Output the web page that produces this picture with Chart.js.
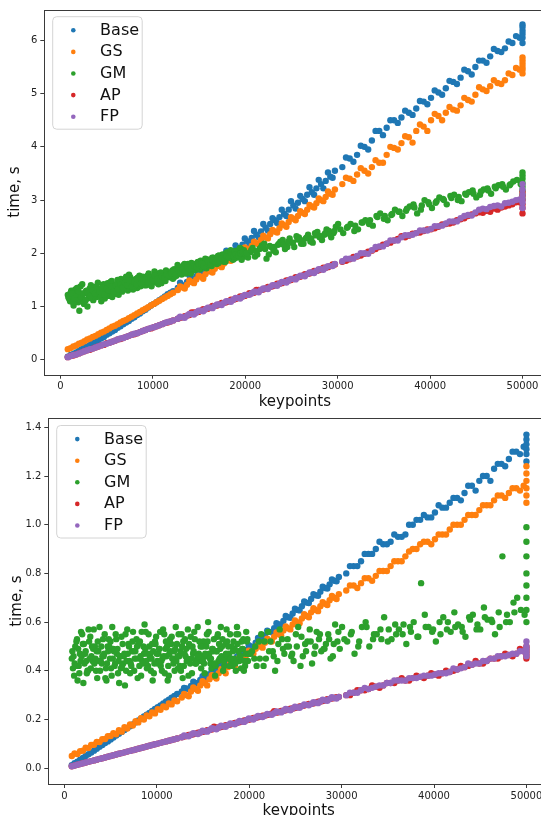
<!DOCTYPE html>
<html><head><meta charset="utf-8">
<script src="https://cdn.jsdelivr.net/npm/chart.js@4.4.1/dist/chart.umd.min.js"></script>
<style>
html,body{margin:0;padding:0;background:#fff;overflow:hidden;width:541px;height:815px;position:relative;}
canvas{position:absolute;left:0;}
#c1{top:0px}
#c2{top:408px}
</style></head><body>
<canvas id="c1" width="560" height="412"></canvas>
<canvas id="c2" width="560" height="412"></canvas>
<script>
// ---------- DATA ----------
const seriesNames = ['Base', 'GS', 'GM', 'AP', 'FP'];
const xTickValues = [0, 10000, 20000, 30000, 40000, 50000];
const yTickValuesTop = [0, 1, 2, 3, 4, 5, 6];
const yTickValuesBottom = [0.0, 0.2, 0.4, 0.6, 0.8, 1.0, 1.2, 1.4];

// keypoints shared by Base, GS, AP, FP (first run)
const keypoints = [
  800,1100,1400,1700,2000,2300,2600,2900,3200,3500,3800,4100,4400,
  4700,5000,5300,5600,5900,6200,6500,6800,7100,7400,7700,8000,8300,
  8600,8900,9200,9500,9800,10100,10400,10700,11000,11300,11600,11900,12200,
  12700,13200,13700,14200,14700,15200,15700,16200,16700,17200,17700,18200,
  18700,19200,19700,20200,20700,21200,21700,22200,22700,23200,23700,24200,
  24700,25200,25700,26200,26700,27200,27700,28200,28700,29200,29700,
  30500,31300,32100,32900,33700,34500,35300,36100,36900,37700,38500,39300,40100,
  40900,41700,42500,43300,44100,44900,45700,46500,47300,48100,48900,49700,
  50000,50000,50000,50000,50000,50000
];
// keypoints of the second run (Base, GS, AP, FP)
const keypointsB = [
  12950,13450,13950,14450,14950,15450,15950,16450,16950,17450,17950,18450,
  18950,19450,19950,20450,20950,21450,21950,22450,22950,23450,23950,24450,
  24950,25450,25950,26450,26950,27450,27950,28450,28950,29450,
  30900,31700,32500,33300,34100,34900,35700,36500,37300,38100,38900,39700,
  40500,41300,42100,42900,43700,44500,45300,46100,46900,47700,48500,49300
];

// ----- top chart (time, s) -----
const baseTop = [
  0.06,0.09,0.11,0.14,0.17,0.20,0.23,0.25,0.28,0.32,0.34,0.37,0.40,
  0.43,0.47,0.50,0.53,0.56,0.60,0.63,0.67,0.70,0.73,0.77,0.80,0.84,
  0.87,0.91,0.94,0.98,1.02,1.05,1.08,1.12,1.15,1.19,1.23,1.26,1.29,
  1.35,1.40,1.46,1.52,1.57,1.63,1.69,1.74,1.80,1.86,1.92,1.98,
  2.04,2.10,2.16,2.23,2.29,2.35,2.41,2.48,2.55,2.62,2.68,2.74,
  2.82,2.90,2.95,3.02,3.10,3.15,3.22,3.30,3.36,3.44,3.55,
  3.62,3.78,3.85,4.00,4.12,4.30,4.36,4.50,4.55,4.64,4.72,4.85,4.92,
  5.02,5.10,5.22,5.30,5.42,5.50,5.62,5.70,5.80,5.85,5.95,6.05,
  5.95,6.05,6.12,6.18,6.25,6.30
];
const baseTopB = [
  1.45,1.38,1.59,1.47,1.64,1.56,1.84,1.74,1.90,1.79,2.05,1.95,
  2.15,2.05,2.28,2.18,2.42,2.30,2.55,2.43,2.66,2.57,2.82,2.70,
  2.98,2.84,3.08,2.98,3.24,3.10,3.38,3.22,3.52,3.42,
  3.80,3.72,4.02,3.95,4.30,4.22,4.50,4.45,4.68,4.60,4.86,4.80,
  5.06,4.98,5.24,5.18,5.45,5.36,5.62,5.58,5.84,5.78,5.98,6.08
];
const gsTop = [
  0.20,0.22,0.25,0.27,0.30,0.32,0.35,0.38,0.40,0.43,0.45,0.48,0.51,
  0.53,0.56,0.59,0.62,0.64,0.67,0.70,0.73,0.75,0.78,0.81,0.84,0.87,
  0.90,0.93,0.96,0.99,1.02,1.05,1.08,1.11,1.14,1.17,1.20,1.23,1.26,
  1.31,1.36,1.41,1.46,1.51,1.56,1.61,1.66,1.71,1.76,1.81,1.87,
  1.92,1.97,2.03,2.08,2.14,2.19,2.25,2.30,2.36,2.41,2.47,2.53,
  2.59,2.65,2.70,2.76,2.82,2.88,2.94,3.00,3.06,3.12,3.20,
  3.30,3.40,3.48,3.55,3.62,3.70,3.85,3.98,4.07,4.18,4.30,4.38,4.50,
  4.58,4.64,4.70,4.78,4.88,4.98,5.08,5.14,5.20,5.25,5.35,5.45,
  5.38,5.45,5.50,5.56,5.62,5.68
];
const gsTopB = [
  1.38,1.34,1.49,1.44,1.58,1.52,1.69,1.64,1.78,1.74,1.90,1.86,
  2.00,1.96,2.11,2.06,2.22,2.17,2.33,2.28,2.44,2.39,2.56,2.50,
  2.68,2.62,2.79,2.74,2.91,2.86,3.03,2.98,3.16,3.10,
  3.42,3.36,3.60,3.50,3.75,3.70,4.00,3.95,4.20,4.08,4.42,4.30,
  4.62,4.50,4.75,4.68,4.92,4.85,5.12,5.05,5.25,5.18,5.38,5.48
];
const apTop = [
  0.05,0.07,0.08,0.10,0.12,0.14,0.16,0.18,0.19,0.21,0.23,0.25,0.27,
  0.28,0.31,0.32,0.34,0.36,0.38,0.39,0.41,0.43,0.45,0.47,0.48,0.50,
  0.52,0.54,0.56,0.58,0.59,0.61,0.63,0.65,0.67,0.69,0.70,0.72,0.74,
  0.77,0.80,0.83,0.89,0.89,0.92,0.95,0.98,1.01,1.04,1.07,1.10,
  1.13,1.16,1.19,1.22,1.25,1.31,1.31,1.34,1.37,1.40,1.43,1.46,
  1.49,1.52,1.55,1.58,1.61,1.64,1.67,1.70,1.73,1.76,1.79,
  1.84,1.89,1.94,1.99,2.05,2.12,2.18,2.24,2.32,2.33,2.38,2.42,2.45,
  2.50,2.55,2.58,2.64,2.70,2.75,2.76,2.78,2.82,2.88,2.92,2.96,
  2.75,2.85,2.92,3.00,3.08,3.15
];
const apTopB = [
  0.79,0.82,0.84,0.89,0.90,0.95,0.96,1.01,1.02,1.07,1.08,1.13,
  1.14,1.19,1.20,1.25,1.26,1.31,1.32,1.37,1.38,1.43,1.44,1.49,
  1.50,1.55,1.56,1.61,1.62,1.67,1.68,1.73,1.74,1.79,
  1.86,1.93,1.96,2.03,2.08,2.16,2.20,2.27,2.30,2.37,2.39,2.45,
  2.47,2.54,2.56,2.62,2.66,2.73,2.77,2.80,2.84,2.86,2.90,2.96
];
const fpTop = [
  0.05,0.07,0.09,0.10,0.12,0.14,0.16,0.18,0.20,0.21,0.23,0.25,0.27,
  0.29,0.30,0.32,0.34,0.36,0.38,0.40,0.41,0.43,0.45,0.47,0.49,0.50,
  0.52,0.54,0.56,0.58,0.60,0.61,0.63,0.65,0.67,0.69,0.71,0.72,0.74,
  0.77,0.80,0.83,0.86,0.89,0.92,0.95,0.98,1.01,1.04,1.07,1.10,
  1.13,1.16,1.19,1.22,1.25,1.28,1.31,1.34,1.37,1.40,1.43,1.46,
  1.49,1.52,1.55,1.58,1.61,1.64,1.67,1.70,1.73,1.76,1.80,
  1.85,1.90,1.95,2.00,2.06,2.13,2.18,2.24,2.30,2.34,2.38,2.43,2.46,
  2.51,2.56,2.60,2.66,2.72,2.77,2.84,2.87,2.90,2.94,2.97,3.01,
  2.85,2.95,3.02,3.10,3.20,3.30
];
const fpTopB = [
  0.81,0.79,0.86,0.85,0.92,0.91,0.98,0.97,1.04,1.03,1.10,1.09,
  1.16,1.15,1.22,1.22,1.28,1.27,1.34,1.33,1.40,1.39,1.46,1.45,
  1.52,1.51,1.58,1.57,1.64,1.63,1.70,1.69,1.76,1.76,
  1.90,1.90,2.00,1.99,2.12,2.13,2.24,2.24,2.34,2.35,2.43,2.43,
  2.51,2.52,2.60,2.60,2.70,2.71,2.82,2.83,2.89,2.88,2.95,3.00
];

// ----- bottom chart (time, s) -----
const baseBottom = [
  0.012,0.020,0.027,0.035,0.042,0.050,0.057,0.064,0.072,0.080,0.088,0.095,0.103,
  0.110,0.118,0.126,0.134,0.141,0.149,0.157,0.165,0.172,0.180,0.188,0.196,0.204,
  0.212,0.220,0.227,0.235,0.243,0.250,0.258,0.266,0.274,0.281,0.289,0.297,0.305,
  0.315,0.327,0.338,0.350,0.362,0.374,0.386,0.398,0.410,0.422,0.435,0.448,
  0.460,0.473,0.486,0.500,0.515,0.530,0.545,0.560,0.575,0.590,0.605,0.620,
  0.635,0.650,0.665,0.680,0.695,0.710,0.725,0.740,0.755,0.770,0.785,
  0.80,0.83,0.85,0.88,0.90,0.92,0.93,0.95,0.96,1.00,1.02,1.03,1.05,
  1.07,1.09,1.11,1.13,1.16,1.18,1.20,1.23,1.25,1.27,1.30,1.32,
  1.26,1.29,1.31,1.33,1.35,1.37
];
const baseBottomB = [
  0.330,0.325,0.355,0.350,0.378,0.372,0.402,0.397,0.426,0.420,0.452,0.445,
  0.478,0.472,0.505,0.498,0.535,0.528,0.565,0.558,0.595,0.590,0.625,0.618,
  0.655,0.648,0.685,0.678,0.715,0.708,0.745,0.738,0.775,0.768,
  0.83,0.83,0.88,0.88,0.93,0.92,0.96,0.95,1.00,1.02,1.04,1.03,
  1.08,1.07,1.11,1.10,1.16,1.14,1.20,1.18,1.25,1.24,1.30,1.29
];
const gsBottom = [
  0.050,0.060,0.058,0.070,0.072,0.084,0.083,0.095,0.096,0.108,0.107,0.119,0.120,
  0.131,0.132,0.144,0.139,0.156,0.150,0.168,0.163,0.180,0.175,0.193,0.188,0.205,
  0.200,0.217,0.213,0.229,0.225,0.242,0.240,0.254,0.250,0.266,0.262,0.278,0.275,
  0.290,0.300,0.315,0.325,0.340,0.350,0.365,0.375,0.390,0.400,0.415,0.425,
  0.440,0.450,0.465,0.475,0.490,0.500,0.515,0.525,0.540,0.550,0.565,0.575,
  0.590,0.600,0.615,0.625,0.640,0.650,0.665,0.675,0.690,0.700,0.715,
  0.73,0.75,0.76,0.78,0.79,0.81,0.83,0.85,0.87,0.90,0.92,0.93,0.94,
  0.96,0.98,1.00,1.02,1.04,1.06,1.08,1.10,1.12,1.13,1.15,1.16,
  1.09,1.12,1.15,1.18,1.21,1.24
];
const gsBottomB = [
  0.305,0.295,0.332,0.318,0.357,0.340,0.382,0.368,0.407,0.390,0.432,0.420,
  0.457,0.445,0.482,0.470,0.507,0.495,0.532,0.520,0.557,0.545,0.582,0.570,
  0.607,0.595,0.632,0.620,0.657,0.645,0.682,0.670,0.707,0.695,
  0.75,0.74,0.78,0.77,0.81,0.81,0.85,0.85,0.89,0.90,0.93,0.92,
  0.96,0.96,1.00,1.00,1.04,1.04,1.08,1.08,1.12,1.11,1.15,1.14
];
const apBottom = [
  0.008,0.011,0.014,0.017,0.020,0.023,0.026,0.029,0.032,0.035,0.038,0.041,0.044,
  0.047,0.050,0.053,0.056,0.059,0.062,0.065,0.068,0.071,0.074,0.077,0.080,0.083,
  0.086,0.089,0.092,0.095,0.098,0.101,0.104,0.107,0.110,0.113,0.116,0.119,0.122,
  0.127,0.132,0.137,0.142,0.147,0.152,0.157,0.170,0.167,0.172,0.177,0.182,
  0.187,0.192,0.197,0.202,0.207,0.212,0.216,0.221,0.234,0.231,0.236,0.240,
  0.245,0.250,0.255,0.260,0.264,0.269,0.274,0.279,0.284,0.288,0.293,
  0.300,0.310,0.320,0.325,0.335,0.340,0.350,0.360,0.360,0.370,0.375,0.380,0.385,
  0.390,0.395,0.405,0.415,0.425,0.430,0.440,0.450,0.460,0.465,0.470,0.480,
  0.45,0.46,0.47,0.48,0.49,0.50
];
const apBottomB = [
  0.130,0.136,0.139,0.146,0.149,0.156,0.159,0.166,0.169,0.176,0.179,0.186,
  0.189,0.196,0.199,0.206,0.209,0.216,0.218,0.225,0.228,0.235,0.238,0.244,
  0.247,0.254,0.257,0.264,0.266,0.273,0.276,0.283,0.286,0.292,
  0.30,0.32,0.32,0.34,0.33,0.35,0.35,0.37,0.36,0.38,0.37,0.39,
  0.38,0.40,0.40,0.42,0.42,0.44,0.43,0.45,0.45,0.47,0.46,0.49
];
const fpBottom = [
  0.008,0.011,0.014,0.017,0.020,0.023,0.026,0.029,0.032,0.035,0.038,0.041,0.044,
  0.047,0.050,0.053,0.056,0.059,0.062,0.065,0.068,0.071,0.074,0.077,0.080,0.083,
  0.086,0.089,0.092,0.095,0.098,0.101,0.104,0.107,0.110,0.113,0.116,0.119,0.122,
  0.127,0.132,0.137,0.142,0.147,0.152,0.157,0.162,0.167,0.172,0.177,0.182,
  0.187,0.192,0.197,0.202,0.207,0.212,0.216,0.221,0.226,0.231,0.236,0.240,
  0.245,0.250,0.255,0.260,0.264,0.269,0.274,0.279,0.284,0.288,0.293,
  0.300,0.310,0.320,0.325,0.335,0.340,0.350,0.360,0.360,0.370,0.375,0.380,0.385,
  0.390,0.395,0.405,0.415,0.425,0.430,0.440,0.450,0.460,0.465,0.470,0.480,
  0.46,0.47,0.48,0.49,0.50,0.52
];
const fpBottomB = [
  0.134,0.131,0.144,0.140,0.154,0.150,0.164,0.160,0.174,0.170,0.184,0.180,
  0.194,0.190,0.204,0.200,0.214,0.210,0.223,0.219,0.233,0.229,0.243,0.238,
  0.252,0.248,0.262,0.258,0.271,0.267,0.281,0.277,0.291,0.286,
  0.31,0.31,0.33,0.33,0.34,0.35,0.36,0.36,0.37,0.37,0.38,0.38,
  0.39,0.39,0.41,0.41,0.43,0.43,0.44,0.45,0.46,0.46,0.47,0.48
];

// ----- GM: four runs with their own keypoints -----
const gmKeypoints = [
  800,1050,1300,1550,1800,2050,2300,2550,2800,3050,3300,
  3550,3800,4050,4300,4550,4800,5050,5300,5550,5800,6050,
  6300,6550,6800,7050,7300,7550,7800,8050,8300,8550,8800,
  9050,9300,9550,9800,10050,10300,10550,10800,11050,11300,11550,
  11800,12050,12300,12550,12800,13050,13300,13550,13800,14050,14300,
  14550,14800,15050,15300,15550,15800,16050,16300,16550,16800,17050,
  17300,17550,17800,18050,18300,18550,18800,19050,19300,19550,19800,
  20300,20800,21300,21800,22300,22800,23300,23800,24300,24800,
  25300,25800,26300,26800,27300,27800,28300,28800,29300,29800,
  30600,31400,32200,33000,33800,34600,35400,36200,37000,37800,38600,39400,40200,
  41000,41800,42600,43400,44200,45000,45800,46600,47400,48200,49000,49800,
  50000,50000,50000,50000,50000,50000,50000,50000
];
const gmKeypointsB = [
  925,1175,1425,1675,1925,2175,2425,2675,2925,3175,3425,
  3675,3925,4175,4425,4675,4925,5175,5425,5675,5925,6175,
  6425,6675,6925,7175,7425,7675,7925,8175,8425,8675,8925,
  9175,9425,9675,9925,10175,10425,10675,10925,11175,11425,11675,
  11925,12175,12425,12675,12925,13175,13425,13675,13925,14175,14425,
  14675,14925,15175,15425,15675,15925,16175,16425,16675,16925,17175,
  17425,17675,17925,18175,18425,18675,18925,19175,19425,19675,19925,
  20550,21050,21550,22050,22550,23050,23550,24050,24550,25050,
  25550,26050,26550,27050,27550,28050,28550,29050,29550,30050,
  31000,31800,32600,33400,34200,35000,35800,36600,37400,38200,39000,39800,
  40600,41400,42200,43000,43800,44600,45400,46200,47000,47800,48600,49400
];
const gmKeypointsC = [
  860,1110,1360,1610,1860,2110,2360,2610,2860,3110,3360,
  3610,3860,4110,4360,4610,4860,5110,5360,5610,5860,6110,
  6360,6610,6860,7110,7360,7610,7860,8110,8360,8610,8860,
  9110,9360,9610,9860,10110,10360,10610,10860,11110,11360,11610,
  11860,12110,12360,12610,12860,13110,13360,13610,13860,14110,14360,
  14610,14860,15110,15360,15610,15860,16110,16360,16610,16860,17110,
  17360,17610,17860,18110,18360,18610,18860,19110,19360,19610,19860
];
const gmKeypointsD = [
  990,1240,1490,1740,1990,2240,2490,2740,2990,3240,3490,
  3740,3990,4240,4490,4740,4990,5240,5490,5740,5990,6240,
  6490,6740,6990,7240,7490,7740,7990,8240,8490,8740,8990,
  9240,9490,9740,9990,10240,10490,10740,10990,11240,11490,11740,
  11990,12240,12490,12740,12990,13240,13490,13740,13990,14240,14490,
  14740,14990,15240,15490,15740,15990,16240,16490,16740,16990,17240,
  17490,17740,17990,18240,18490,18740,18990,19240,19490,19740,19990,
  20150,20650,21150,21650,22150,22650,23150,23650,24150,24650,
  25150,25650,26150,26650,27150,27650,28150,28650,29150,29650,
  30300,31100,31900,32700,33500,34300,35100,35900,36700,37500,38300,39100,
  39900,40700,41500,42300,43100,43900,44700,45500,46300,47100,47900,48700
];
const gmTop = [
  1.22,1.10,1.28,1.15,1.35,0.92,1.20,1.05,1.30,1.18,1.40,
  1.12,1.25,1.45,1.20,1.32,1.15,1.38,1.25,1.48,1.30,1.42,
  1.22,1.52,1.35,1.45,1.30,1.55,1.40,1.50,1.35,1.58,1.45,
  1.52,1.40,1.62,1.48,1.55,1.45,1.62,1.50,1.58,1.52,1.65,
  1.55,1.60,1.70,1.58,1.75,1.65,1.72,1.62,1.80,1.70,1.76,
  1.68,1.82,1.74,1.85,1.78,1.72,1.88,1.80,1.92,1.84,1.95,
  1.86,1.98,1.88,2.02,1.92,2.00,1.90,2.05,1.95,2.08,1.98,
  1.92,2.10,1.98,2.15,1.90,2.12,2.02,2.22,2.08,2.28,
  2.12,2.30,2.18,2.35,2.20,2.40,2.25,2.45,2.30,2.50,
  2.38,2.55,2.45,2.62,2.52,2.75,2.62,2.82,2.70,2.88,2.75,3.00,2.85,
  3.05,2.92,3.10,2.98,3.15,3.05,3.20,3.12,3.28,3.20,3.35,3.30,
  3.02,3.10,3.18,3.25,3.32,3.40,3.46,3.52
];
const gmTopB = [
  1.15,1.30,1.02,1.24,1.08,1.38,1.14,1.27,1.00,1.34,1.22,
  1.36,1.18,1.30,1.10,1.42,1.28,1.20,1.46,1.34,1.24,1.50,
  1.38,1.28,1.46,1.33,1.60,1.42,1.36,1.52,1.44,1.38,1.56,
  1.46,1.58,1.42,1.52,1.66,1.48,1.56,1.44,1.60,1.68,1.56,
  1.64,1.52,1.66,1.78,1.62,1.70,1.80,1.68,1.74,1.82,1.70,
  1.78,1.72,1.86,1.76,1.90,1.82,1.78,1.92,1.86,1.80,1.96,
  1.92,1.84,2.00,1.94,2.06,1.88,2.02,1.96,2.10,2.00,1.94,
  2.02,1.94,2.08,2.18,1.98,2.05,2.16,2.25,2.12,2.20,
  2.32,2.18,2.28,2.22,2.38,2.30,2.35,2.42,2.38,2.55,
  2.48,2.42,2.58,2.55,2.70,2.65,2.72,2.78,2.80,2.92,2.82,2.96,
  2.95,3.02,3.08,3.00,3.12,3.18,3.10,3.22,3.25,3.30,3.28,3.38
];
const gmTopC = [
  1.18,1.26,1.08,1.32,1.14,1.22,1.42,1.10,1.26,1.16,1.30,
  1.20,1.38,1.26,1.18,1.40,1.22,1.44,1.32,1.18,1.38,1.28,
  1.46,1.32,1.40,1.56,1.38,1.48,1.32,1.44,1.54,1.40,1.50,
  1.40,1.55,1.48,1.38,1.58,1.52,1.42,1.64,1.55,1.48,1.60,
  1.58,1.68,1.56,1.64,1.72,1.60,1.78,1.66,1.70,1.62,1.80,
  1.74,1.84,1.70,1.80,1.74,1.88,1.82,1.76,1.84,1.90,1.82,
  1.88,1.96,1.84,1.94,1.98,1.90,2.04,1.92,1.98,1.88,2.06
];
const gmTopD = [
  1.20,1.25,1.15,1.22,1.28,1.18,1.24,1.12,1.26,1.20,1.30,
  1.24,1.32,1.28,1.36,1.22,1.34,1.30,1.38,1.28,1.40,1.33,
  1.42,1.36,1.45,1.40,1.48,1.38,1.46,1.42,1.50,1.44,1.48,
  1.50,1.46,1.54,1.50,1.58,1.52,1.48,1.56,1.54,1.60,1.58,
  1.62,1.66,1.60,1.68,1.64,1.70,1.66,1.74,1.70,1.72,1.76,
  1.74,1.78,1.80,1.76,1.82,1.84,1.80,1.86,1.84,1.88,1.86,
  1.90,1.88,1.94,1.92,1.96,1.94,1.98,1.96,2.00,2.02,2.00,
  2.00,2.06,2.04,2.10,2.08,2.14,2.12,2.18,2.16,2.22,
  2.20,2.26,2.24,2.30,2.28,2.34,2.32,2.38,2.36,2.42,
  2.45,2.50,2.52,2.58,2.62,2.68,2.70,2.74,2.78,2.84,2.86,2.90,
  2.92,2.98,3.00,3.04,3.06,3.10,3.12,3.16,3.18,3.22,3.25,3.30
];
const gmBottom = [
  0.45,0.38,0.52,0.42,0.56,0.35,0.48,0.40,0.54,0.44,0.50,
  0.37,0.58,0.43,0.47,0.36,0.53,0.41,0.49,0.55,0.39,0.46,
  0.51,0.34,0.57,0.44,0.48,0.40,0.53,0.45,0.38,0.50,0.56,
  0.42,0.47,0.36,0.52,0.44,0.49,0.40,0.55,0.46,0.38,0.51,
  0.43,0.58,0.41,0.48,0.37,0.53,0.45,0.50,0.39,0.56,0.44,
  0.47,0.41,0.52,0.46,0.60,0.43,0.49,0.38,0.54,0.45,0.50,
  0.42,0.57,0.47,0.44,0.52,0.40,0.55,0.46,0.49,0.42,0.53,
  0.48,0.42,0.55,0.45,0.52,0.40,0.57,0.47,0.50,0.44,
  0.58,0.46,0.52,0.43,0.56,0.48,0.51,0.45,0.59,0.49,
  0.52,0.47,0.58,0.50,0.55,0.62,0.53,0.57,0.51,0.60,0.76,0.58,0.52,
  0.62,0.56,0.59,0.54,0.63,0.57,0.61,0.55,0.87,0.60,0.70,0.63,
  0.60,0.65,0.70,0.75,0.80,0.87,0.93,0.99
];
const gmBottomB = [
  0.41,0.50,0.36,0.47,0.55,0.43,0.39,0.52,0.46,0.57,0.40,
  0.48,0.44,0.53,0.37,0.50,0.45,0.58,0.42,0.47,0.35,0.54,
  0.46,0.40,0.51,0.43,0.56,0.48,0.37,0.52,0.44,0.59,0.41,
  0.50,0.45,0.39,0.54,0.47,0.42,0.57,0.49,0.36,0.53,0.45,
  0.40,0.51,0.46,0.55,0.42,0.49,0.38,0.54,0.47,0.43,0.58,
  0.44,0.50,0.39,0.55,0.47,0.41,0.53,0.48,0.44,0.58,0.40,
  0.51,0.45,0.55,0.42,0.49,0.58,0.44,0.52,0.40,0.56,0.47,
  0.45,0.52,0.42,0.56,0.48,0.44,0.53,0.50,0.46,0.55,
  0.42,0.51,0.57,0.47,0.53,0.49,0.55,0.46,0.52,0.58,
  0.55,0.50,0.60,0.53,0.57,0.52,0.59,0.55,0.58,0.54,0.63,0.56,
  0.60,0.57,0.64,0.58,0.62,0.57,0.66,0.61,0.64,0.60,0.68,0.65
];
const gmBottomC = [
  0.48,0.43,0.53,0.39,0.46,0.51,0.44,0.57,0.41,0.49,0.45,
  0.52,0.40,0.46,0.55,0.43,0.50,0.38,0.48,0.53,0.44,0.41,
  0.43,0.55,0.47,0.39,0.52,0.45,0.50,0.42,0.56,0.47,0.44,
  0.55,0.40,0.48,0.51,0.43,0.56,0.45,0.39,0.50,0.47,0.54,
  0.48,0.44,0.55,0.40,0.52,0.46,0.57,0.43,0.50,0.53,0.45,
  0.52,0.46,0.43,0.50,0.56,0.45,0.48,0.42,0.55,0.49,0.53,
  0.46,0.52,0.42,0.50,0.45,0.55,0.48,0.41,0.53,0.47,0.44
];
const gmBottomD = [
  0.46,0.42,0.49,0.44,0.51,0.47,0.40,0.45,0.50,0.43,0.48,
  0.44,0.50,0.46,0.41,0.48,0.52,0.45,0.43,0.49,0.46,0.42,
  0.47,0.44,0.50,0.42,0.48,0.45,0.51,0.46,0.43,0.49,0.47,
  0.45,0.51,0.43,0.47,0.49,0.44,0.46,0.52,0.42,0.48,0.45,
  0.49,0.46,0.42,0.50,0.47,0.44,0.51,0.45,0.48,0.43,0.46,
  0.50,0.44,0.47,0.52,0.45,0.49,0.43,0.48,0.51,0.46,0.44,
  0.47,0.50,0.45,0.48,0.43,0.51,0.46,0.49,0.44,0.52,0.47,
  0.47,0.50,0.45,0.52,0.48,0.46,0.51,0.49,0.53,0.47,
  0.50,0.54,0.48,0.52,0.50,0.55,0.49,0.53,0.51,0.56,
  0.53,0.56,0.52,0.58,0.55,0.53,0.57,0.55,0.59,0.56,0.54,0.58,
  0.57,0.55,0.60,0.58,0.56,0.61,0.59,0.62,0.60,0.58,0.63,0.64
];

// ---------- STYLE ----------
const COLORS = ['#1f77b4', '#ff7f0e', '#2ca02c', '#d62728', '#9467bd'];
const FONT = '"DejaVu Sans", "Liberation Sans", sans-serif';

function pts(xs, ys) {
  const out = [];
  const n = Math.min(xs.length, ys.length);
  for (let i = 0; i < n; i++) out.push({ x: xs[i], y: ys[i] });
  return out;
}

function roundRectPath(ctx, x, y, w, h, r) {
  ctx.beginPath();
  ctx.moveTo(x + r, y);
  ctx.lineTo(x + w - r, y); ctx.arcTo(x + w, y, x + w, y + r, r);
  ctx.lineTo(x + w, y + h - r); ctx.arcTo(x + w, y + h, x + w - r, y + h, r);
  ctx.lineTo(x + r, y + h); ctx.arcTo(x, y + h, x, y + h - r, r);
  ctx.lineTo(x, y + r); ctx.arcTo(x, y, x + r, y, r);
  ctx.closePath();
}

const frameLegendPlugin = {
  id: 'frameLegend',
  afterDatasetsDraw(chart) {
    const ctx = chart.ctx, a = chart.chartArea;
    ctx.save();
    ctx.strokeStyle = '#3a3a3a'; ctx.lineWidth = 1;
    const l = Math.round(a.left) + 0.5, t = Math.round(a.top) + 0.5;
    const r = Math.round(a.right) + 0.5, b = Math.round(a.bottom) + 0.5;
    ctx.strokeRect(l, t, r - l, b - t);
    const bx = a.left + 8.4, by = a.top + 7.2, bw = 89.5, bh = 112.5;
    roundRectPath(ctx, bx, by, bw, bh, 4);
    ctx.fillStyle = 'rgba(255,255,255,0.8)'; ctx.fill();
    ctx.strokeStyle = '#d4d4d4'; ctx.lineWidth = 1; ctx.stroke();
    ctx.font = '16px ' + FONT; ctx.textAlign = 'left'; ctx.textBaseline = 'alphabetic';
    chart.data.datasets.forEach((ds, i) => {
      const y = by + 13.6 + i * 21.6;
      ctx.fillStyle = ds.backgroundColor;
      ctx.beginPath(); ctx.arc(bx + 20.6, y, 2.3, 0, Math.PI * 2); ctx.fill();
      ctx.fillStyle = '#111';
      ctx.fillText(ds.label, bx + 47.4, y + 4.5);
    });
    ctx.restore();
  }
};

function makeChart(id, runA, runB, gmRuns, yMin, yMax, yTicks, yFmt, cfg) {
  const idx = [0, 1, null, 2, 3];
  const datasets = seriesNames.map((name, i) => {
    let data;
    if (i === 2) {
      data = pts(gmKeypoints, gmRuns[0]).concat(
        pts(gmKeypointsB, gmRuns[1]), pts(gmKeypointsC, gmRuns[2]), pts(gmKeypointsD, gmRuns[3]));
    } else {
      data = pts(keypoints, runA[idx[i]]).concat(pts(keypointsB, runB[idx[i]]));
    }
    return {
      label: name, data,
      backgroundColor: COLORS[i], borderColor: COLORS[i],
      pointRadius: 3.2, pointBorderWidth: 0, pointHoverRadius: 3.2,
      order: 5 - i
    };
  });
  return new Chart(document.getElementById(id), {
    type: 'scatter',
    data: { datasets },
    options: {
      responsive: false, animation: false, devicePixelRatio: 1,
      events: [],
      layout: { padding: { top: cfg.top, left: 0, right: cfg.right, bottom: 0 } },
      plugins: { legend: { display: false }, tooltip: { enabled: false } },
      scales: {
        x: {
          type: 'linear', position: 'bottom', min: -1744, max: 52464,
          afterBuildTicks: s => { s.ticks = xTickValues.map(v => ({ value: v })); },
          afterFit: s => { s.height = cfg.xh; s.paddingLeft = 0; s.paddingRight = 0; s.paddingTop = 0; s.paddingBottom = 0; },
          ticks: { callback: v => String(v), font: { family: FONT, size: 10 }, color: '#222', padding: 2, maxRotation: 0, autoSkip: false },
          grid: { drawOnChartArea: false, drawTicks: true, tickLength: 4, color: '#3a3a3a', lineWidth: 1 },
          border: { display: false },
          title: { display: true, text: 'keypoints', font: { family: FONT, size: 15 }, color: '#111', padding: { top: 0, bottom: cfg.xtPad } }
        },
        y: {
          type: 'linear', position: 'left', min: yMin, max: yMax,
          afterBuildTicks: s => { s.ticks = yTicks.map(v => ({ value: v })); },
          afterFit: s => { s.width = cfg.yw; s.paddingLeft = 0; s.paddingRight = 0; s.paddingTop = 0; s.paddingBottom = 0; },
          ticks: { callback: yFmt, font: { family: FONT, size: 10 }, color: '#222', padding: 3, autoSkip: false },
          grid: { drawOnChartArea: false, drawTicks: true, tickLength: 4, color: '#3a3a3a', lineWidth: 1 },
          border: { display: false },
          title: { display: true, text: 'time, s', font: { family: FONT, size: 15 }, color: '#111', padding: { top: cfg.ytPad, bottom: 0 } }
        }
      }
    },
    plugins: [frameLegendPlugin]
  });
}

makeChart('c1',
  [baseTop, gsTop, apTop, fpTop], [baseTopB, gsTopB, apTopB, fpTopB], [gmTop, gmTopB, gmTopC, gmTopD],
  -0.28, 6.58, yTickValuesTop, v => String(v),
  { top: 9.5, right: 14.7, xh: 37.3, yw: 44.3, xtPad: 1, ytPad: 6 });
makeChart('c2',
  [baseBottom, gsBottom, apBottom, fpBottom], [baseBottomB, gsBottomB, apBottomB, fpBottomB], [gmBottom, gmBottomB, gmBottomC, gmBottomD],
  -0.065, 1.437, yTickValuesBottom, v => Number(v).toFixed(1),
  { top: 10.3, right: 10.8, xh: 36, yw: 48.3, xtPad: 0, ytPad: 8 });
</script>
</body></html>
